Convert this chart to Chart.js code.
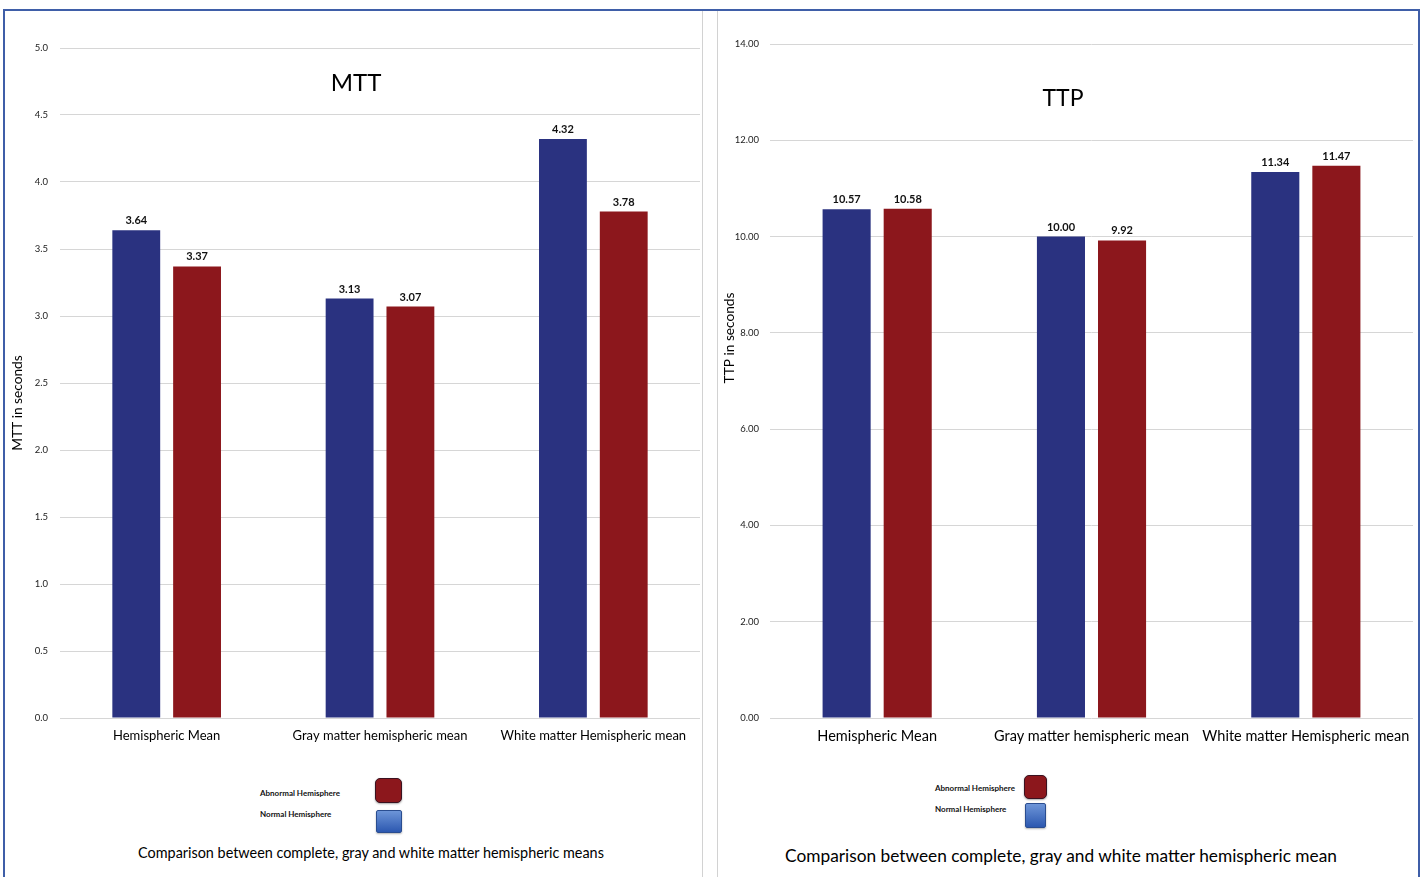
<!DOCTYPE html>
<html>
<head>
<meta charset="utf-8">
<script src="https://cdn.jsdelivr.net/npm/chart.js@4"></script>
<style>
  html, body { margin: 0; padding: 0; background: #fff; }
  body { width: 1421px; height: 877px; position: relative; overflow: hidden; font-family: Lato, "Open Sans", sans-serif; }
  .frame { position: absolute; left: 3px; top: 9px; width: 1417px; height: 900px; border: 2px solid #3f5ea8; box-sizing: border-box; }
  .divider { position: absolute; top: 11px; width: 1px; height: 880px; background: #d2d2d2; }
  .panel { position: absolute; top: 0; }
  .legend-text { position: absolute; font-size: 8px; font-weight: bold; color: #111; white-space: nowrap; }
  .swatch { position: absolute; box-sizing: border-box; }
  .swatch.red { background: #8c171c; border: 1.5px solid #3a1220; border-radius: 5px; box-shadow: 0 1px 2px rgba(0,0,0,0.35); }
  .swatch.blue { background: linear-gradient(#6d95d8, #2c58b0); border: 1px solid #2a4d90; border-radius: 2px; box-shadow: 0 1px 2px rgba(0,0,0,0.3); }
  .caption { position: absolute; color: #000; white-space: nowrap; transform: translateX(-50%); }
</style>
</head>
<body>
<div class="frame"></div>
<div class="divider" style="left:702px"></div>
<div class="divider" style="left:717px"></div>

<canvas id="mtt" class="panel" style="left:0px" width="702" height="760"></canvas>
<canvas id="ttp" class="panel" style="left:717px" width="700" height="760"></canvas>

<!-- MTT legend and caption -->
<div class="legend-text" style="left:260px; top:788px;">Abnormal Hemisphere</div>
<div class="legend-text" style="left:260px; top:809px;">Normal Hemisphere</div>
<div class="swatch red" style="left:375px; top:778px; width:27px; height:25px;"></div>
<div class="swatch blue" style="left:376px; top:810px; width:26px; height:23px;"></div>
<div class="caption" style="left:371px; top:844px; font-size:14.4px;">Comparison between complete, gray and white matter hemispheric means</div>

<!-- TTP legend and caption -->
<div class="legend-text" style="left:935px; top:783px;">Abnormal Hemisphere</div>
<div class="legend-text" style="left:935px; top:804px;">Normal Hemisphere</div>
<div class="swatch red" style="left:1024px; top:775px; width:23px; height:24px;"></div>
<div class="swatch blue" style="left:1025px; top:803px; width:21px; height:25px;"></div>
<div class="caption" style="left:1061px; top:845px; font-size:17.3px;">Comparison between complete, gray and white matter hemispheric mean</div>

<script>
// Categories shared by both panels
const categories = ['Hemispheric Mean', 'Gray matter hemispheric mean', 'White matter Hemispheric mean'];
const seriesNames = ['Normal Hemisphere', 'Abnormal Hemisphere'];

// Mean transit time (seconds)
const mttNormal = [3.64, 3.13, 4.32];
const mttAbnormal = [3.37, 3.07, 3.78];

// Time to peak (seconds)
const ttpNormal = [10.57, 10.00, 11.34];
const ttpAbnormal = [10.58, 9.92, 11.47];

// Axis tick ranges
const mttTicks = { min: 0, max: 5, step: 0.5, decimals: 1 };
const ttpTicks = { min: 0, max: 14, step: 2, decimals: 2 };

const BLUE = '#2a3280';
const RED = '#8c171c';
const FONT = 'Lato, "Open Sans", sans-serif';

// Draws the in-plot title, rotated y-axis title and value labels above bars
const panelDecor = {
  id: 'panelDecor',
  afterDatasetsDraw(chart, args, opts) {
    const ctx = chart.ctx;
    ctx.save();
    // value labels
    ctx.font = 'bold ' + opts.valueSize + 'px ' + FONT;
    ctx.fillStyle = '#111';
    ctx.textAlign = 'center';
    ctx.textBaseline = 'bottom';
    chart.data.datasets.forEach((ds, di) => {
      const meta = chart.getDatasetMeta(di);
      meta.data.forEach((el, i) => {
        ctx.fillText(ds.data[i].toFixed(2), el.x, el.y - 4);
      });
    });
    // chart title inside the plot
    ctx.font = opts.titleSize + 'px ' + FONT;
    ctx.fillStyle = '#000';
    ctx.textBaseline = 'middle';
    ctx.fillText(opts.title, opts.titleX, opts.titleY);
    // y-axis title
    ctx.translate(opts.axisX, opts.axisY);
    ctx.rotate(-Math.PI / 2);
    ctx.font = opts.axisSize + 'px ' + FONT;
    ctx.fillText(opts.axisTitle, 0, 0);
    ctx.restore();
  }
};

function makeChart(id, normal, abnormal, ticks, cfg) {
  return new Chart(document.getElementById(id), {
    type: 'bar',
    data: {
      labels: categories,
      datasets: [
        { label: seriesNames[0], data: normal, backgroundColor: BLUE,
          categoryPercentage: 0.57, barPercentage: 0.787 },
        { label: seriesNames[1], data: abnormal, backgroundColor: RED,
          categoryPercentage: 0.57, barPercentage: 0.787 }
      ]
    },
    options: {
      responsive: false,
      animation: false,
      layout: { padding: { top: cfg.top, right: cfg.right, bottom: 0, left: 0 } },
      plugins: {
        legend: { display: false },
        tooltip: { enabled: false },
        panelDecor: cfg.decor
      },
      scales: {
        x: {
          grid: { display: false, drawTicks: false },
          border: { display: false },
          ticks: { color: '#000', padding: 10, font: { family: FONT, size: cfg.catSize }, maxRotation: 0, autoSkip: false },
          afterFit(scale) { scale.height = 42; scale.paddingRight = 0; scale.paddingLeft = 0; }
        },
        y: {
          min: ticks.min, max: ticks.max,
          grid: { color: '#d6d6d6', lineWidth: 1, drawTicks: false },
          border: { display: false },
          ticks: {
            stepSize: ticks.step, color: '#222', padding: cfg.tickPad,
            font: { family: FONT, size: cfg.tickSize },
            callback: v => Number(v).toFixed(ticks.decimals)
          },
          afterFit(scale) { scale.width = cfg.yWidth; }
        }
      }
    },
    plugins: [panelDecor]
  });
}

makeChart('mtt', mttNormal, mttAbnormal, mttTicks, {
  top: 48, right: 2, yWidth: 60, tickPad: 12, tickSize: 9.5, catSize: 13,
  decor: { title: 'MTT', titleX: 356, titleY: 83, titleSize: 24,
           axisTitle: 'MTT in seconds', axisX: 18, axisY: 403, axisSize: 13.7, valueSize: 11 }
});

makeChart('ttp', ttpNormal, ttpAbnormal, ttpTicks, {
  top: 44, right: 4, yWidth: 53, tickPad: 11, tickSize: 9.5, catSize: 14.5,
  decor: { title: 'TTP', titleX: 346, titleY: 99, titleSize: 23,
           axisTitle: 'TTP in seconds', axisX: 13, axisY: 338, axisSize: 13.7, valueSize: 11 }
});
</script>
</body>
</html>
